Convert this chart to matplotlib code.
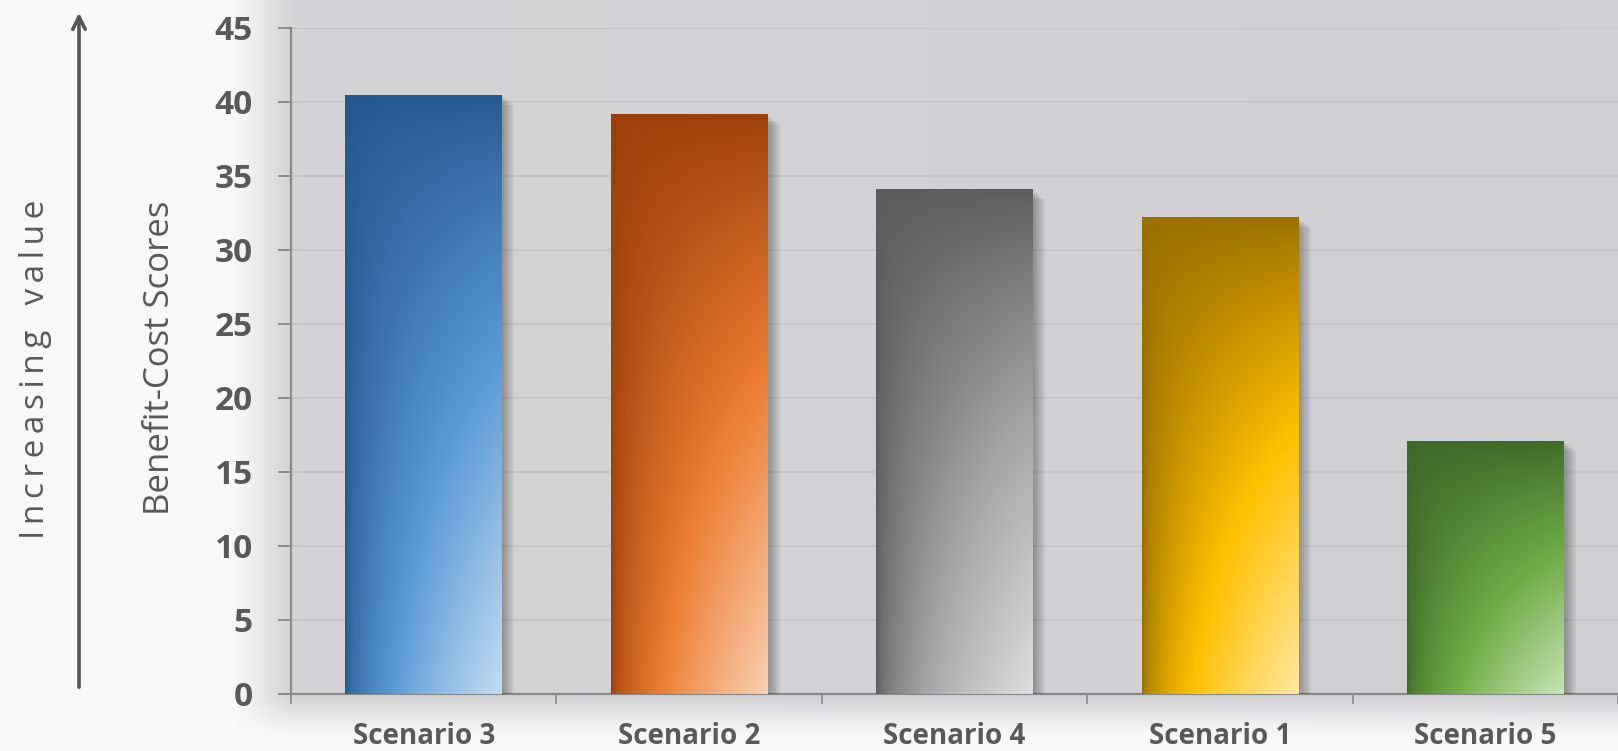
import numpy as np
import matplotlib
matplotlib.use("Agg")
import matplotlib.pyplot as plt
import matplotlib.patheffects as pe

# Data
scenarios = ["Scenario 3", "Scenario 2", "Scenario 4", "Scenario 1", "Scenario 5"]
scores = [40.5, 39.2, 34.1, 32.2, 17.1]
y_ticks = [0, 5, 10, 15, 20, 25, 30, 35, 40, 45]

# gradient stops per bar: dark, mid, light
bar_colors = [
    ("#265a8f", "#5b9bd5", "#c4dcf2"),
    ("#9c400c", "#ed7d31", "#f9d0b2"),
    ("#5c5c5c", "#a5a5a5", "#dedede"),
    ("#987000", "#ffc000", "#ffe8a0"),
    ("#3d6a28", "#70ad47", "#c8e3b5"),
]

TXT = "#595959"
FONT = ["Open Sans", "DejaVu Sans"]
W, H = 1618, 751

fig = plt.figure(figsize=(W / 100, H / 100), dpi=100)
fig.patch.set_facecolor("#f9fafa")

# background: grey panel that fades into white on the left and bottom
bg = fig.add_axes([0, 0, 1, 1], zorder=-2)
xx, yy = np.meshgrid(np.arange(W), np.arange(H))
def smooth(a, lo, hi):
    t = np.clip((a - lo) / (hi - lo), 0, 1)
    return t * t * (3 - 2 * t)
mask = smooth(xx, 225, 300) * (1 - smooth(yy, 690, 740))
base = np.full((H, W, 3), 0.975)
grey = np.dstack([0.835 - 0.02 * xx / W, 0.835 - 0.02 * xx / W, 0.84 - 0.015 * xx / W])
img = base * (1 - mask[..., None]) + grey * mask[..., None]
bg.imshow(img, extent=(0, W, H, 0), aspect="auto", interpolation="bilinear")
bg.set_xlim(0, W)
bg.set_ylim(H, 0)
bg.axis("off")

# "Increasing value" arrow
bg.annotate("", xy=(79, 10), xytext=(79, 690),
            arrowprops=dict(arrowstyle="->,head_length=0.9,head_width=0.45",
                            color="#555555", lw=2.6))
spaced = "\u2009".join("Increasing") + "\u2009 \u2009\u2009" + "\u2009".join("value")
fig.text(36 / W, 1 - 369 / H, spaced, rotation=90,
         ha="center", va="center", fontsize=24, color=TXT, family=FONT)
fig.text(160 / W, 1 - 358 / H, "Benefit-Cost Scores", rotation=90,
         ha="center", va="center", fontsize=25, color=TXT, family=FONT)

ax = fig.add_axes([291 / W, 1 - 694 / H, 1 - 291 / W, (694 - 28) / H])
ax.set_facecolor("none")

x = np.arange(len(scenarios))
bars = ax.bar(x, scores, width=0.59, color="none", zorder=3)

# soft shadow to the lower right of each bar
shadow = [pe.SimplePatchShadow(offset=(o, -o * 0.8), shadow_rgbFace="#000000", alpha=0.055)
          for o in (1.5, 3, 4.5, 6, 7.5, 9)]
gx, gy = np.meshgrid(np.linspace(0, 1, 120), np.linspace(1, 0, 300))
for b, (dark, mid, light) in zip(bars, bar_colors):
    b.set_path_effects(shadow + [pe.Normal()])
    stops = np.array([matplotlib.colors.to_rgb(c) for c in (dark, mid, light)])
    t = np.clip(gx ** 0.6 * (1 - gy) ** 0.85, 0, 1)
    rgb = np.empty(t.shape + (3,))
    for k in range(3):
        rgb[..., k] = np.interp(t, [0, 0.5, 1], stops[:, k])
    im = ax.imshow(rgb, extent=(b.get_x(), b.get_x() + b.get_width(), 0, b.get_height()),
                   aspect="auto", zorder=4, interpolation="bilinear")
    im.set_clip_path(b)

ax.set_xlim(-0.5, len(scenarios) - 0.5)
ax.set_ylim(0, 45)
ax.set_yticks(y_ticks)
ax.set_xticks(x)
ax.set_xticklabels(scenarios)
ax.set_xticks(np.arange(-0.5, len(scenarios)), minor=True)
ax.yaxis.grid(True, color="#c6c6c6", lw=1.5, zorder=1)
ax.set_axisbelow(True)

for s in ("top", "right"):
    ax.spines[s].set_visible(False)
for s in ("left", "bottom"):
    ax.spines[s].set_color("#8a8a8a")
    ax.spines[s].set_linewidth(1.6)

ax.tick_params(axis="y", length=9.5, width=1.4, color="#8a8a8a", pad=18,
               labelsize=24, labelcolor=TXT)
ax.tick_params(axis="x", which="major", length=0, pad=20, labelsize=20, labelcolor=TXT)
ax.tick_params(axis="x", which="minor", length=7.5, width=1.2, color="#8a8a8a")
for lab in ax.get_yticklabels() + ax.get_xticklabels():
    lab.set_fontweight("bold")
    lab.set_family(FONT)

fig.savefig("out.png", dpi=100, facecolor=fig.get_facecolor())
